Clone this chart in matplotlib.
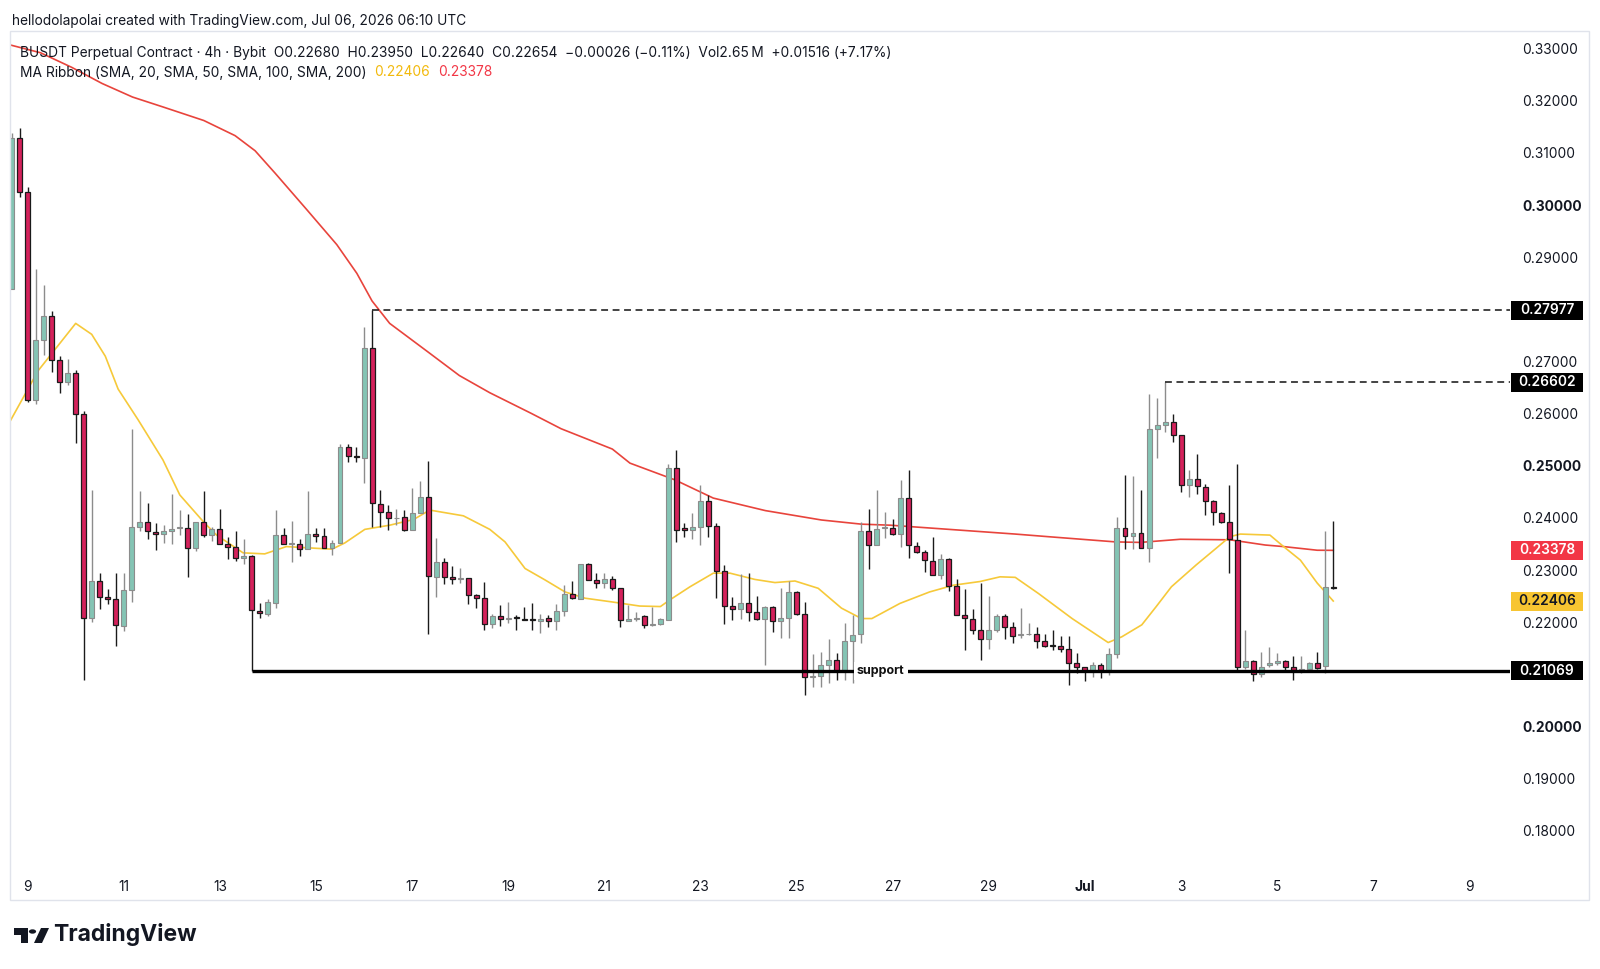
import numpy as np
import matplotlib
matplotlib.use("Agg")
import matplotlib.pyplot as plt
from matplotlib.patches import Rectangle, Polygon, Circle
from matplotlib.transforms import blended_transform_factory

plt.rcParams["font.family"] = ["Inter", "DejaVu Sans"]

# =========================
# data (4h candles, first bar = Jun 8 16:00 UTC)
# =========================
OPEN = [
    0.2839, 0.3128, 0.3024, 0.2627, 0.2741, 0.2788, 0.2703, 0.2660, 0.2677, 0.2600,
    0.2208, 0.2279, 0.2249, 0.2244, 0.2192, 0.2261, 0.2383, 0.2392, 0.2373, 0.2369,
    0.2375, 0.2380, 0.2380, 0.2343, 0.2392, 0.2367, 0.2379, 0.2350, 0.2345, 0.2324,
    0.2326, 0.2222, 0.2216, 0.2237, 0.2367, 0.2350, 0.2350, 0.2340, 0.2370, 0.2366,
    0.2342, 0.2352, 0.2535, 0.2518, 0.2514, 0.2725, 0.2427, 0.2412, 0.2399, 0.2401,
    0.2377, 0.2410, 0.2440, 0.2287, 0.2316, 0.2287, 0.2283, 0.2284, 0.2252, 0.2247,
    0.2196, 0.2212, 0.2206, 0.2210, 0.2207, 0.2207, 0.2203, 0.2208, 0.2203, 0.2222,
    0.2254, 0.2245, 0.2312, 0.2281, 0.2275, 0.2283, 0.2265, 0.2203, 0.2206, 0.2211,
    0.2195, 0.2197, 0.2204, 0.2496, 0.2380, 0.2376, 0.2382, 0.2432, 0.2384, 0.2298,
    0.2231, 0.2225, 0.2236, 0.2220, 0.2207, 0.2230, 0.2203, 0.2209, 0.2258, 0.2215,
    0.2095, 0.2096, 0.2118, 0.2128, 0.2107, 0.2163, 0.2177, 0.2375, 0.2348, 0.2380,
    0.2381, 0.2369, 0.2439, 0.2347, 0.2335, 0.2317, 0.2291, 0.2321, 0.2270, 0.2214,
    0.2207, 0.2185, 0.2167, 0.2185, 0.2212, 0.2190, 0.2175, 0.2177, 0.2178, 0.2163,
    0.2156, 0.2155, 0.2148, 0.2122, 0.2114, 0.2108, 0.2118, 0.2108, 0.2139, 0.2380,
    0.2365, 0.2372, 0.2342, 0.2570, 0.2578, 0.2584, 0.2559, 0.2463, 0.2475, 0.2460,
    0.2432, 0.2409, 0.2392, 0.2358, 0.2114, 0.2126, 0.2101, 0.2117, 0.2121, 0.2126,
    0.2115, 0.2108, 0.2111, 0.2121, 0.2116, 0.22680,
]
HIGH = [
    0.3139, 0.3148, 0.3034, 0.2878, 0.2847, 0.2797, 0.2710, 0.2705, 0.2683, 0.2605,
    0.2453, 0.2295, 0.2263, 0.2295, 0.2295, 0.2570, 0.2452, 0.2428, 0.2391, 0.2386,
    0.2446, 0.2415, 0.2407, 0.2392, 0.2452, 0.2383, 0.2418, 0.2364, 0.2375, 0.2360,
    0.2328, 0.2236, 0.2244, 0.2415, 0.2380, 0.2395, 0.2359, 0.2452, 0.2380, 0.2380,
    0.2357, 0.2542, 0.2542, 0.2535, 0.2767, 0.27977, 0.2453, 0.2425, 0.2418, 0.2416,
    0.2457, 0.2471, 0.2510, 0.2362, 0.2324, 0.2308, 0.2303, 0.2285, 0.2255, 0.2278,
    0.2215, 0.2233, 0.2239, 0.2213, 0.2229, 0.2236, 0.2216, 0.2213, 0.2234, 0.2271,
    0.2279, 0.2312, 0.2314, 0.2295, 0.2295, 0.2289, 0.2265, 0.2233, 0.2220, 0.2213,
    0.2230, 0.2208, 0.2503, 0.2530, 0.2390, 0.2409, 0.2463, 0.2444, 0.2390, 0.2310,
    0.2249, 0.2293, 0.2295, 0.2250, 0.2231, 0.2232, 0.2265, 0.2279, 0.2259, 0.2239,
    0.2139, 0.2143, 0.2167, 0.2140, 0.2198, 0.2214, 0.2393, 0.2418, 0.2453, 0.2412,
    0.2398, 0.2473, 0.2491, 0.2353, 0.2338, 0.2363, 0.2331, 0.2323, 0.2282, 0.2263,
    0.2225, 0.2276, 0.2251, 0.2215, 0.2215, 0.2201, 0.2227, 0.2198, 0.2191, 0.2178,
    0.2185, 0.2174, 0.2174, 0.2140, 0.2115, 0.2124, 0.2121, 0.2150, 0.2401, 0.2482,
    0.2480, 0.2453, 0.2638, 0.2629, 0.26602, 0.2599, 0.2559, 0.2492, 0.2523, 0.2465,
    0.2435, 0.2412, 0.2463, 0.2503, 0.2186, 0.2127, 0.2143, 0.2153, 0.2141, 0.2128,
    0.2135, 0.2135, 0.2124, 0.2142, 0.2374, 0.23950,
]
LOW = [
    0.2839, 0.3016, 0.2623, 0.2619, 0.2713, 0.2679, 0.2640, 0.2655, 0.2544, 0.2089,
    0.2201, 0.2225, 0.2234, 0.2155, 0.2183, 0.2239, 0.2374, 0.2360, 0.2338, 0.2351,
    0.2349, 0.2367, 0.2286, 0.2337, 0.2364, 0.2356, 0.2349, 0.2321, 0.2318, 0.2312,
    0.2107, 0.2209, 0.2212, 0.2227, 0.2350, 0.2316, 0.2326, 0.2340, 0.2353, 0.2342,
    0.2328, 0.2352, 0.2508, 0.2508, 0.2466, 0.2383, 0.2383, 0.2377, 0.2386, 0.2374,
    0.2377, 0.2410, 0.2177, 0.2249, 0.2273, 0.2274, 0.2276, 0.2234, 0.2227, 0.2186,
    0.2189, 0.2192, 0.2199, 0.2186, 0.2205, 0.2185, 0.2179, 0.2190, 0.2185, 0.2212,
    0.2245, 0.2244, 0.2281, 0.2265, 0.2265, 0.2262, 0.2191, 0.2202, 0.2202, 0.2188,
    0.2192, 0.2195, 0.2204, 0.2354, 0.2363, 0.2359, 0.2348, 0.2363, 0.2246, 0.2197,
    0.2204, 0.2206, 0.2203, 0.2204, 0.2118, 0.2182, 0.2169, 0.2169, 0.2213, 0.2060,
    0.2075, 0.2075, 0.2083, 0.2090, 0.2090, 0.2083, 0.2161, 0.2302, 0.2348, 0.2361,
    0.2367, 0.2345, 0.2324, 0.2333, 0.2297, 0.2290, 0.2283, 0.2260, 0.2214, 0.2147,
    0.2177, 0.2128, 0.2148, 0.2182, 0.2167, 0.2160, 0.2170, 0.2175, 0.2150, 0.2152,
    0.2147, 0.2142, 0.2080, 0.2102, 0.2088, 0.2094, 0.2093, 0.2099, 0.2131, 0.2340,
    0.2340, 0.2342, 0.2316, 0.2514, 0.2565, 0.2545, 0.2450, 0.2441, 0.2446, 0.2406,
    0.2386, 0.2390, 0.2295, 0.2108, 0.2110, 0.2087, 0.2095, 0.2115, 0.2118, 0.2105,
    0.2089, 0.2102, 0.2108, 0.2110, 0.2102, 0.22640,
]
CLOSE = [
    0.3128, 0.3024, 0.2626, 0.2741, 0.2788, 0.2703, 0.2660, 0.2677, 0.2600, 0.2209,
    0.2279, 0.2249, 0.2244, 0.2194, 0.2261, 0.2382, 0.2392, 0.2374, 0.2369, 0.2374,
    0.2379, 0.2382, 0.2343, 0.2392, 0.2367, 0.2379, 0.2350, 0.2344, 0.2324, 0.2326,
    0.2223, 0.2217, 0.2239, 0.2367, 0.2350, 0.2352, 0.2340, 0.2370, 0.2366, 0.2342,
    0.2351, 0.2535, 0.2519, 0.2516, 0.2725, 0.2428, 0.2412, 0.2399, 0.2400, 0.2377,
    0.2410, 0.2440, 0.2289, 0.2316, 0.2287, 0.2282, 0.2284, 0.2252, 0.2247, 0.2197,
    0.2212, 0.2206, 0.2209, 0.2208, 0.2205, 0.2205, 0.2206, 0.2203, 0.2222, 0.2254,
    0.2246, 0.2312, 0.2281, 0.2275, 0.2282, 0.2265, 0.2204, 0.2206, 0.2209, 0.2195,
    0.2197, 0.2206, 0.2496, 0.2377, 0.2377, 0.2382, 0.2432, 0.2384, 0.2298, 0.2231,
    0.2225, 0.2236, 0.2220, 0.2207, 0.2230, 0.2203, 0.2209, 0.2258, 0.2215, 0.2095,
    0.2097, 0.2117, 0.2128, 0.2107, 0.2163, 0.2175, 0.2375, 0.2348, 0.2379, 0.2382,
    0.2369, 0.2439, 0.2348, 0.2335, 0.2319, 0.2291, 0.2321, 0.2270, 0.2214, 0.2209,
    0.2185, 0.2167, 0.2185, 0.2212, 0.2191, 0.2174, 0.2177, 0.2178, 0.2163, 0.2155,
    0.2154, 0.2148, 0.2122, 0.2115, 0.2107, 0.2118, 0.2108, 0.2139, 0.2380, 0.2365,
    0.2372, 0.2342, 0.2570, 0.2578, 0.2584, 0.2559, 0.2463, 0.2475, 0.2461, 0.2432,
    0.2411, 0.2392, 0.2360, 0.2114, 0.2126, 0.2101, 0.2115, 0.2121, 0.2126, 0.2115,
    0.2108, 0.2111, 0.2121, 0.2112, 0.2268, 0.22654,
]

# MA Ribbon lines (bar index, value)
MA20_X = [-0.2, 3.3, 8, 10, 11.7, 13.3, 15.8, 18.9, 21, 24.1, 25.6, 28.9, 31.6, 34.3,
          40, 41.6, 44.1, 47.2, 50.2, 52.2, 56.4, 59.7, 61.6, 64.1, 66.6, 69.1, 71.6,
          74.9, 78.4, 81, 82.2, 84.7, 87.6, 89.7, 92.8, 95.3, 97.8, 100.7, 103.6, 106.1,
          107.4, 110.9, 114.6, 117.6, 120.9, 123.4, 125.3, 128.2, 132.4, 136.9, 138.6,
          141.1, 142.9, 144.8, 147.9, 150.4, 152.1, 153.4, 157.1, 158.8, 160.9, 163, 165]
MA20_Y = [0.2585, 0.2682, 0.2773, 0.2752, 0.2710, 0.2647, 0.2588, 0.2511, 0.2444, 0.2390,
          0.2367, 0.2333, 0.2331, 0.2345, 0.2340, 0.2352, 0.2378, 0.2386, 0.2397, 0.2415,
          0.2404, 0.2378, 0.2354, 0.2303, 0.2281, 0.2258, 0.2246, 0.2239, 0.2231, 0.2230,
          0.2243, 0.2268, 0.2294, 0.2294, 0.2282, 0.2276, 0.2279, 0.2265, 0.2227, 0.2207,
          0.2207, 0.2236, 0.2258, 0.2271, 0.2278, 0.2287, 0.2286, 0.2255, 0.2207, 0.2161,
          0.2172, 0.2195, 0.2230, 0.2268, 0.2310, 0.2342, 0.2364, 0.2369, 0.2367, 0.2345,
          0.2319, 0.2275, 0.22406]
MA200_X = [-0.2, 3.6, 7.5, 11.3, 15.1, 18.9, 24, 27.9, 30.4, 32.9, 36.8, 40.6, 43.1, 45,
           47.2, 52, 55.9, 59.7, 64.8, 68.6, 75, 77.2, 82.8, 87.6, 94.1, 101.1, 106.1,
           109.7, 125.3, 129.4, 137.8, 140.9, 145.9, 152.1, 156.5, 158.8, 163, 165]
MA200_Y = [0.3307, 0.3292, 0.3264, 0.3233, 0.3207, 0.3188, 0.3162, 0.3133, 0.3104, 0.3061,
           0.2992, 0.2924, 0.2869, 0.2816, 0.2773, 0.2718, 0.2673, 0.2640, 0.2601, 0.2571,
           0.2532, 0.2505, 0.2473, 0.2438, 0.2414, 0.2396, 0.2388, 0.2386, 0.2369, 0.2364,
           0.2354, 0.2353, 0.2359, 0.2358, 0.2348, 0.2345, 0.2338, 0.23378]

# drawn levels
LEVEL_HIGH1, LEVEL_HIGH1_FROM = 0.27977, 45
LEVEL_HIGH2, LEVEL_HIGH2_FROM = 0.26602, 144
SUPPORT, SUPPORT_FROM, SUPPORT_LABEL_AT = 0.21069, 30, 108.5

# axes ticks
DATE_TICKS = [2, 14, 26, 38, 50, 62, 74, 86, 98, 110, 122, 134, 146, 158, 170, 182]
DATE_LABELS = ["9", "11", "13", "15", "17", "19", "21", "23", "25", "27", "29",
               "Jul", "3", "5", "7", "9"]
PRICE_TICKS = [0.18, 0.19, 0.20, 0.22, 0.23, 0.24, 0.25, 0.26, 0.27,
               0.29, 0.30, 0.31, 0.32, 0.33]   # 0.21 / 0.28 sit under the price tags
BOLD_PRICES = [0.20, 0.25, 0.30]

# =========================
# look
# =========================
FIG_W, FIG_H = 1600, 969
UP_BODY, UP_EDGE = "#84c4b4", "#8c8c8c"
DN_BODY, DN_EDGE = "#d4215b", "#1a1a1a"
MA20_COLOR = "#f6c93a"
MA200_COLOR = "#e8443c"
TXT = "#131722"
FS = 9.9

# pixel layout of the pane (full-size picture)
PANE_L, PANE_R, PANE_T, PANE_B = 10, 1510, 31, 869
X0_PX, BAR_PX = 11.6, 8.01          # x pixel of bar 0, pixels per bar
P0, Y0_PX, PX_PER_UNIT = 0.20, 726.5, 5215.0


def px_to_bar(x):
    return (x - X0_PX) / BAR_PX


def px_to_price(y):
    return P0 + (Y0_PX - y) / PX_PER_UNIT


def fx(x):
    return x / FIG_W


def fy(y):
    return 1 - y / FIG_H


def draw_candles(ax):
    o = np.array(OPEN)
    h = np.array(HIGH)
    l = np.array(LOW)
    c = np.array(CLOSE)
    k = np.arange(len(o))
    up = c >= o
    wick_cols = np.where(up, UP_EDGE, DN_EDGE)
    ax.vlines(k, l, h, colors=wick_cols, lw=1.0, zorder=3)
    bottom = np.minimum(o, c)
    height = np.maximum(np.abs(c - o), 0.00006)
    ax.bar(k[up], height[up], bottom=bottom[up], width=0.62,
           color=UP_BODY, edgecolor=UP_EDGE, lw=0.8, zorder=4)
    ax.bar(k[~up], height[~up], bottom=bottom[~up], width=0.62,
           color=DN_BODY, edgecolor=DN_EDGE, lw=0.9, zorder=4)


def price_box(ax, value, face, fg):
    tr = blended_transform_factory(ax.figure.transFigure, ax.transData)
    hh = 19 / PX_PER_UNIT
    ax.add_patch(Rectangle((fx(1511), value - hh / 2), fx(72), hh, transform=tr,
                           facecolor=face, edgecolor="none", clip_on=False, zorder=20))
    ax.text(fx(1547), value, f"{value:.5f}", transform=tr, ha="center", va="center",
            color=fg, fontsize=FS, fontweight="semibold", clip_on=False, zorder=21)


def main():
    fig = plt.figure(figsize=(FIG_W / 100, FIG_H / 100), dpi=100)
    fig.patch.set_facecolor("white")

    ax = fig.add_axes([fx(PANE_L), fy(PANE_B), fx(PANE_R - PANE_L), (PANE_B - PANE_T) / FIG_H])
    ax.set_xlim(px_to_bar(PANE_L), px_to_bar(PANE_R))
    ax.set_ylim(px_to_price(PANE_B), px_to_price(PANE_T))
    for s in ax.spines.values():
        s.set_visible(False)

    xmax = px_to_bar(PANE_R)

    # MA ribbon
    ax.plot(MA200_X, MA200_Y, color=MA200_COLOR, lw=1.2, zorder=2)
    ax.plot(MA20_X, MA20_Y, color=MA20_COLOR, lw=1.2, zorder=2)

    draw_candles(ax)

    # levels
    ax.hlines(LEVEL_HIGH1, LEVEL_HIGH1_FROM, xmax, colors="#111", lw=1.1,
              linestyles=(0, (4.5, 3)), zorder=5)
    ax.hlines(LEVEL_HIGH2, LEVEL_HIGH2_FROM, xmax, colors="#111", lw=1.1,
              linestyles=(0, (4.5, 3)), zorder=5)
    ax.hlines(SUPPORT, SUPPORT_FROM, xmax, colors="#000", lw=2.4, zorder=5)
    ax.text(SUPPORT_LABEL_AT, SUPPORT, "support", ha="center", va="center",
            fontsize=9, fontweight="bold", color="#111", zorder=6,
            bbox=dict(boxstyle="square,pad=0.25", facecolor="white", edgecolor="none"))

    # axes
    ax.set_xticks(DATE_TICKS)
    ax.set_xticklabels(DATE_LABELS)
    ax.tick_params(axis="x", length=0, pad=8, labelsize=FS, labelcolor=TXT)
    for t in ax.get_xticklabels():
        if t.get_text() == "Jul":
            t.set_fontweight("bold")

    ax.yaxis.tick_right()
    ax.set_yticks(PRICE_TICKS)
    ax.set_yticklabels([f"{p:.5f}" for p in PRICE_TICKS])
    ax.tick_params(axis="y", length=0, pad=9, labelsize=FS, labelcolor=TXT)
    for t, p in zip(ax.get_yticklabels(), PRICE_TICKS):
        if any(abs(p - b) < 1e-9 for b in BOLD_PRICES):
            t.set_fontweight("bold")

    # price tags
    price_box(ax, LEVEL_HIGH1, "#000000", "white")
    price_box(ax, LEVEL_HIGH2, "#000000", "white")
    price_box(ax, MA200_Y[-1], "#f23645", "white")
    price_box(ax, MA20_Y[-1], "#f7c531", "#131722")
    price_box(ax, SUPPORT, "#000000", "white")

    # frame around chart
    fig.add_artist(Rectangle((fx(10), fy(900)), fx(1579), (900 - 31) / FIG_H,
                             transform=fig.transFigure, facecolor="none",
                             edgecolor="#e0e3eb", lw=1.0))

    # header texts
    fig.text(fx(12), fy(21), "hellodolapolai created with TradingView.com, Jul 06, 2026 06:10 UTC",
             fontsize=FS, color=TXT, va="center", ha="left")
    fig.text(fx(20), fy(52.5), "BUSDT Perpetual Contract · 4h · Bybit  O0.22680  H0.23950  L0.22640  "
             "C0.22654  \u22120.00026 (\u22120.11%)  Vol2.65\u2009M  +0.01516 (+7.17%)",
             fontsize=FS, color=TXT, va="center", ha="left")
    t1 = fig.text(fx(20), fy(72.5), "MA Ribbon (SMA, 20, SMA, 50, SMA, 100, SMA, 200)",
                  fontsize=FS, color=TXT, va="center", ha="left")
    r = fig.canvas.get_renderer()
    bb = t1.get_window_extent(r)
    t2 = fig.text(bb.x1 / FIG_W + fx(8), fy(72.5), f"{MA20_Y[-1]:.5f}", fontsize=FS,
                  color="#f2b90c", va="center", ha="left")
    bb2 = t2.get_window_extent(r)
    fig.text(bb2.x1 / FIG_W + fx(8), fy(72.5), f"{MA200_Y[-1]:.5f}", fontsize=FS,
             color="#f23645", va="center", ha="left")

    # TradingView logo
    logo = [
        Polygon([[fx(14), fy(928)], [fx(14), fy(935)], [fx(21), fy(935)], [fx(21), fy(943)],
                 [fx(28), fy(943)], [fx(28), fy(928)]], closed=True),
        Polygon([[fx(34), fy(943)], [fx(41), fy(928)], [fx(49), fy(928)], [fx(42), fy(943)]],
                closed=True),
    ]
    for p in logo:
        p.set_transform(fig.transFigure)
        p.set_facecolor("#131722")
        p.set_edgecolor("none")
        fig.add_artist(p)
    fig.add_artist(Circle((fx(32.5), fy(931.5)), 3.6 / FIG_W, transform=fig.transFigure,
                          facecolor="#131722", edgecolor="none"))
    fig.text(fx(53), fy(935), "TradingView", fontsize=16.5, fontweight="bold",
             color="#131722", va="center", ha="left")

    fig.savefig("out.png", dpi=100, facecolor="white")
    plt.close(fig)


if __name__ == "__main__":
    main()
